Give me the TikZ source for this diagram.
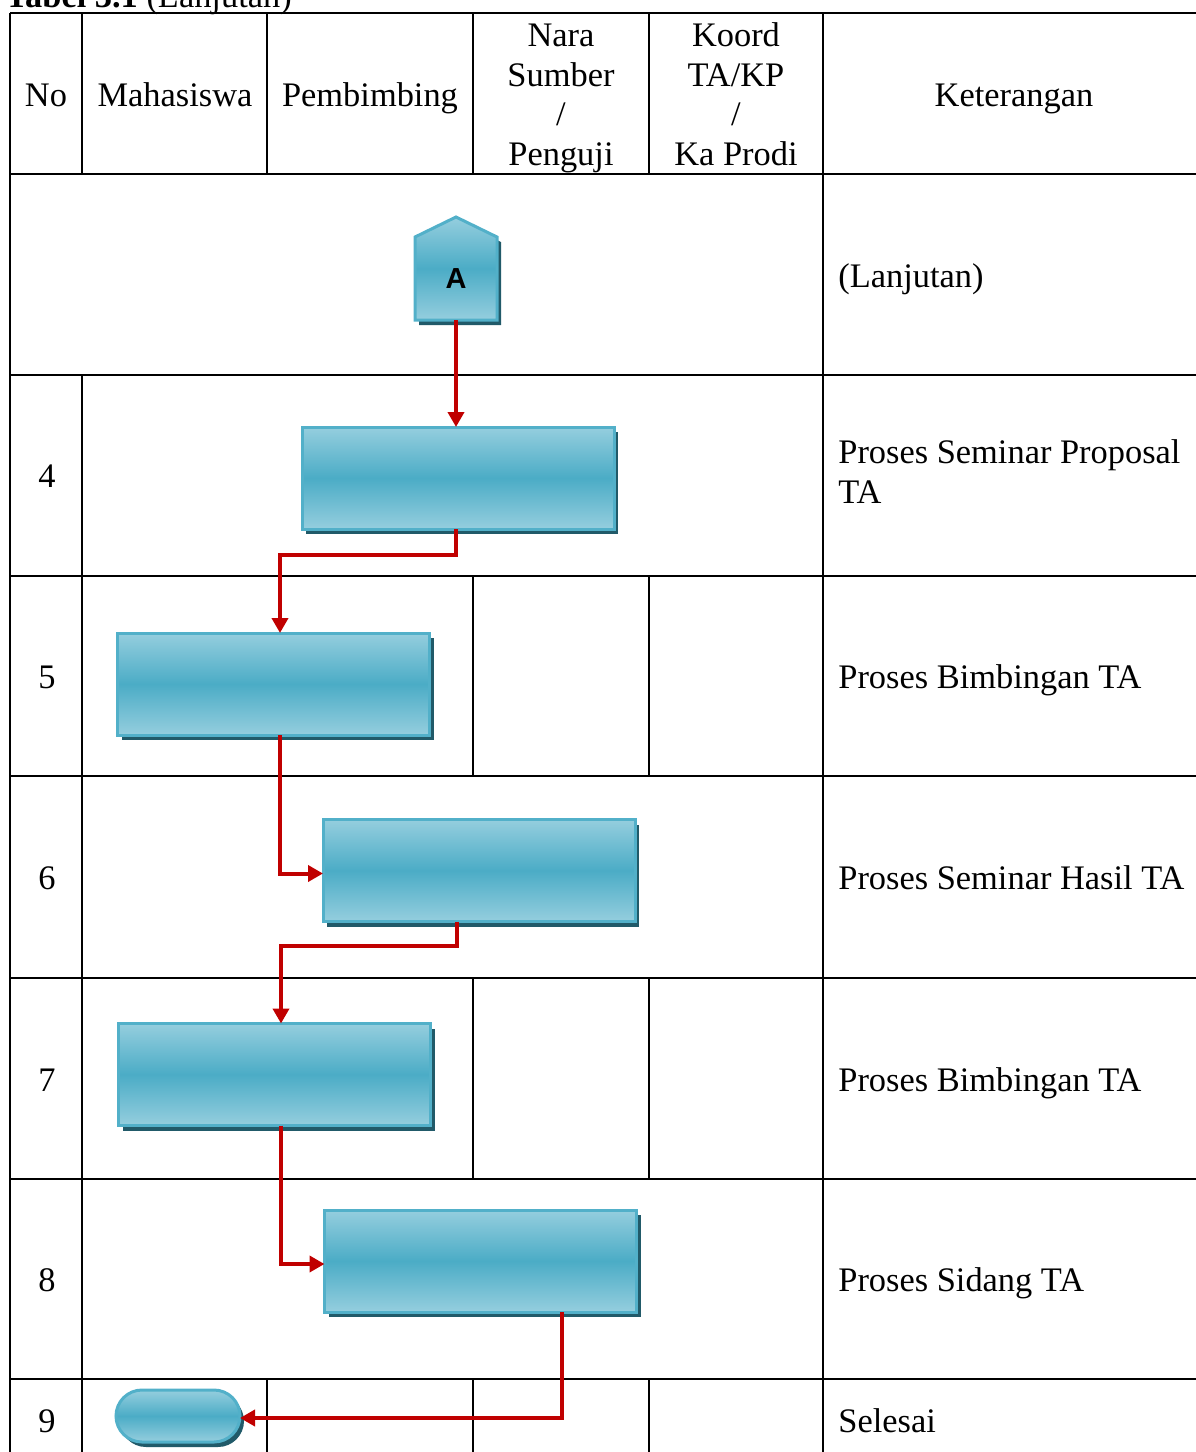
\documentclass[tikz,border=0pt]{standalone}
\usepackage{fontspec}
\setmainfont{Liberation Serif}
\newfontfamily\arialfont{Liberation Sans}
\usetikzlibrary{arrows.meta,shadows,shapes.misc}

\definecolor{boxmid}{HTML}{4BACC6}
\definecolor{boxlight}{HTML}{95CEDE}
\definecolor{boxedge}{HTML}{52B0C9}
\definecolor{boxshade}{HTML}{215A69}
\definecolor{flowred}{HTML}{C00000}

\tikzset{
  grid/.style={line width=1pt},
  txt/.style={inner sep=0pt, font=\fontsize{17.2}{19.75}\selectfont},
  head/.style={txt, anchor=base, align=center},
  note/.style={txt, anchor=base west},
  glossy/.style={draw=boxedge, line width=1.5pt,
    top color=boxlight, bottom color=boxlight, middle color=boxmid,
    drop shadow={shadow xshift=2pt, shadow yshift=-2.5pt, fill=boxshade, opacity=1}},
  procbox/.style={glossy, rectangle, minimum width=156pt, minimum height=51pt,
    inner sep=0pt, outer sep=0pt},
  stopbox/.style={glossy, rounded rectangle, minimum width=62pt, minimum height=26pt,
    inner sep=0pt, outer sep=0pt},
  flow/.style={draw=flowred, line width=2pt, -{Triangle[length=7.5pt,width=8pt]}}
}

\begin{document}
\begin{tikzpicture}[x=0.5pt, y=-0.5pt]
  \useasboundingbox (0,0) rectangle (1195,1452);

  % title (cut off by the page)
  \node[note] (title) at (5,7) {\textbf{Tabel 3.1} (Lanjutan)};

  % table
  \foreach \y in {13,174,375,576,776,978,1179,1379}
    \draw[grid] (10,\y) -- (1200,\y);
  \draw[grid] (10,13) -- (10,1460);
  \draw[grid] (823,13) -- (823,1460);
  \draw[grid] (82,13) -- (82,174);
  \draw[grid] (82,375) -- (82,1460);
  \draw[grid] (267,13) -- (267,174);
  \draw[grid] (267,1379) -- (267,1460);
  \foreach \x in {473,649} {
    \draw[grid] (\x,13) -- (\x,174);
    \draw[grid] (\x,576) -- (\x,776);
    \draw[grid] (\x,978) -- (\x,1179);
    \draw[grid] (\x,1379) -- (\x,1460);
  }

  % header
  \node[head] (hNo) at (46,106) {No};
  \node[head] (hMhs) at (175,106) {Mahasiswa};
  \node[head] (hPmb) at (370,106) {Pembimbing};
  \node[head] (hNara) at (561,165) {Nara\\Sumber\\/\\Penguji};
  \node[head] (hKoord) at (736,165) {Koord\\TA/KP\\/\\Ka Prodi};
  \node[head] (hKet) at (1014,106) {Keterangan};

  % row numbers
  \node[txt, anchor=base] (n4) at (47,487) {4};
  \node[txt, anchor=base] (n5) at (47,688) {5};
  \node[txt, anchor=base] (n6) at (47,889) {6};
  \node[txt, anchor=base] (n7) at (47,1091) {7};
  \node[txt, anchor=base] (n8) at (47,1291) {8};
  \node[txt, anchor=base] (n9) at (47,1432) {9};

  % keterangan
  \node[note] (k0) at (838,287) {(Lanjutan)};
  \node[note] (k4a) at (838,463) {Proses Seminar Proposal};
  \node[note] (k4b) at (838,503) {TA};
  \node[note] (k5) at (838,688) {Proses Bimbingan TA};
  \node[note] (k6) at (838,889) {Proses Seminar Hasil TA};
  \node[note] (k7) at (838,1091) {Proses Bimbingan TA};
  \node[note] (k8) at (838,1291) {Proses Sidang TA};
  \node[note] (k9) at (838,1432) {Selesai};

  % connector A
  \path[glossy] (415,320) -- (415,237) -- (456,217) -- (497,237) -- (497,320) -- cycle;
  \node[inner sep=0pt, minimum width=41pt, minimum height=41.5pt,
        font=\arialfont\bfseries\fontsize{14.5}{16}\selectfont] (conA) at (456,278.5) {A};

  % process boxes
  \node[procbox] (box4) at (458,478) {};
  \node[procbox] (box5) at (273.5,684) {};
  \node[procbox] (box6) at (479,870.5) {};
  \node[procbox] (box7) at (274.5,1074.5) {};
  \node[procbox] (box8) at (480.5,1261) {};
  \node[stopbox] (stop) at (178,1416) {};

  % flow
  \draw[flow] (conA.south) -- (conA.south |- box4.north);
  \draw[flow] ([xshift=-1pt]box4.south) -- ++(0,26) -| ([xshift=3.25pt]box5.north);
  \draw[flow] ([xshift=3.25pt]box5.south) |- ([yshift=-1.5pt]box6.west);
  \draw[flow] ([xshift=-11pt]box6.south) -- ++(0,24) -| ([xshift=3.25pt]box7.north);
  \draw[flow] ([xshift=3.25pt]box7.south) |- ([yshift=-1.5pt]box8.west);
  \draw[flow] ([xshift=40.75pt]box8.south) |- ([yshift=-1pt]stop.east);
\end{tikzpicture}
\end{document}
